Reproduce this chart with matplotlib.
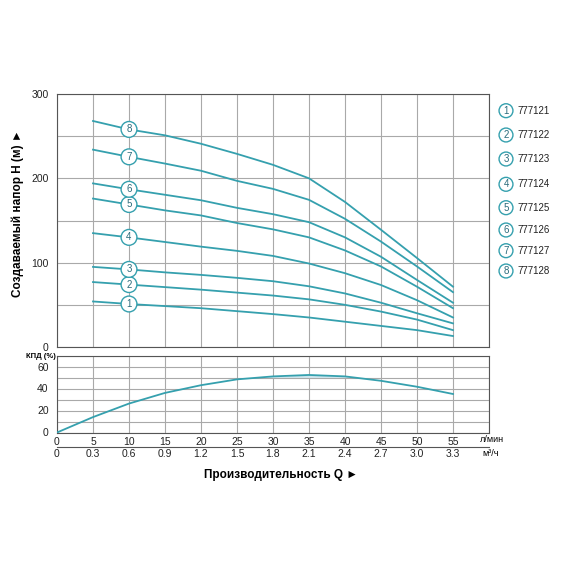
import matplotlib
matplotlib.use('Agg')
import matplotlib.pyplot as plt

plt.rcParams['font.family'] = ['Liberation Sans', 'DejaVu Sans']

# Flow rate (l/min) and the matching m3/h labels
flow = [5, 10, 15, 20, 25, 30, 35, 40, 45, 50, 55]
tick_lpm = [0, 5, 10, 15, 20, 25, 30, 35, 40, 45, 50, 55]
tick_m3h = ['0', '0.3', '0.6', '0.9', '1.2', '1.5', '1.8', '2.1', '2.4', '2.7', '3.0', '3.3']

# Head curves H (m) per pump model
models = ['777121', '777122', '777123', '777124', '777125', '777126', '777127', '777128']
head_1 = [54, 51, 48.5, 46, 42.5, 39, 35, 30, 25, 20, 13]
head_2 = [77, 74, 71, 68, 64.5, 61, 56.5, 50, 42, 32.5, 20]
head_3 = [95, 92, 88.5, 85.5, 82, 78, 72, 63.5, 52.5, 40, 28]
head_4 = [135, 130, 124.5, 119, 114, 108, 99, 87.5, 73.5, 55.5, 35]
head_5 = [176, 169, 162, 156, 147, 139.5, 130, 114.5, 95.5, 71.5, 46]
head_6 = [194, 187, 180.5, 174, 165, 157.5, 148, 130, 107, 79.5, 52.5]
head_7 = [234, 225.5, 217.5, 209, 197, 187.5, 174.5, 152, 125, 95.5, 65]
head_8 = [268, 258, 251, 241, 229, 216, 200, 172, 139, 105.5, 71.5]
heads = [head_1, head_2, head_3, head_4, head_5, head_6, head_7, head_8]

# Efficiency curve
eff_flow = [0, 5, 10, 15, 20, 25, 30, 35, 40, 45, 50, 55]
eff = [0, 14, 26.3, 36, 43, 48.3, 51, 52.3, 51, 47, 41.6, 35]

teal = '#35a0ae'
dark_teal = '#2b6c7c'
grid_c = '#a9a9a9'
spine_c = '#555555'

fig = plt.figure(figsize=(5.7, 5.7), dpi=100)
W = 570.0


def frac(left, top, right, bottom):
    return [left / W, 1 - bottom / W, (right - left) / W, (bottom - top) / W]


ax = fig.add_axes(frac(57, 94, 489, 347))
axb = fig.add_axes(frac(57, 355.5, 489, 432.5))
axm = fig.add_axes(frac(57, 446.5, 489, 446.6))

# --- head chart
for i, h in enumerate(heads):
    ax.plot(flow, h, color=teal, lw=1.3, zorder=3)
    ax.text(10, h[1], str(i + 1), ha='center', va='center', fontsize=7,
            color=dark_teal, zorder=4,
            bbox=dict(boxstyle='circle,pad=0.3', fc='white', ec=teal, lw=1))

ax.set_xlim(0, 60)
ax.set_ylim(0, 300)
ax.set_xticks(range(0, 61, 5))
ax.set_xticklabels([])
ax.set_yticks([0, 100, 200, 300])
ax.set_yticks([50, 150, 250], minor=True)
ax.grid(True, which='both', color=grid_c, lw=0.8)
ax.tick_params(which='both', length=0, labelsize=7.5, pad=6, colors='#222222')
for s in ax.spines.values():
    s.set_color(spine_c)

# --- efficiency chart
axb.fill_between(eff_flow, eff, 50, where=[e > 50 for e in eff],
                 interpolate=True, color='#cde5ec', lw=0, zorder=2)
axb.plot(eff_flow, eff, color=teal, lw=1.3, zorder=3)
axb.set_xlim(0, 60)
axb.set_ylim(0, 70)
axb.set_xticks(tick_lpm)
axb.set_xticks([60], minor=True)
axb.set_yticks([0, 20, 40, 60])
axb.set_yticks([10, 30, 50, 70], minor=True)
axb.grid(True, which='both', color=grid_c, lw=0.8)
axb.tick_params(which='both', length=0, labelsize=7.5, pad=3, colors='#222222')
axb.tick_params(axis='y', pad=6)
for s in axb.spines.values():
    s.set_color(spine_c)

# --- m3/h scale
axm.set_xlim(0, 60)
axm.set_xticks(tick_lpm)
axm.set_xticklabels(tick_m3h)
axm.set_yticks([])
axm.patch.set_visible(False)
for k in ['top', 'left', 'right']:
    axm.spines[k].set_visible(False)
axm.spines['bottom'].set_color(spine_c)
axm.tick_params(length=0, labelsize=7.5, pad=2, colors='#222222')

# --- labels
fig.text(18 / W, 1 - 213 / W, 'Создаваемый напор H (м) ►', rotation=90,
         ha='center', va='center', fontsize=8.5, fontweight='bold')
fig.text(281 / W, 1 - 475 / W, 'Производительность Q ►', ha='center',
         va='center', fontsize=8.5, fontweight='bold')
fig.text(56 / W, 1 - 357 / W, 'КПД (%)', ha='right', va='center',
         fontsize=5.5, fontweight='bold')
fig.text(480 / W, 1 - 440 / W, 'л/мин', ha='left', va='center', fontsize=6.5)
fig.text(482 / W, 1 - 453 / W, 'м³/ч', ha='left', va='center', fontsize=6.5)

# --- legend on the right
leg_y = [110.7, 135, 159, 184.3, 207.7, 230, 250.7, 271]
for i, (m, yy) in enumerate(zip(models, leg_y)):
    fig.text(506 / W, 1 - yy / W, str(i + 1), ha='center', va='center',
             fontsize=7, color=dark_teal,
             bbox=dict(boxstyle='circle,pad=0.2', fc='white', ec=teal, lw=1))
    fig.text(517 / W, 1 - yy / W, m, ha='left', va='center', fontsize=7,
             color='#222222')

fig.savefig('out.png', dpi=100)
